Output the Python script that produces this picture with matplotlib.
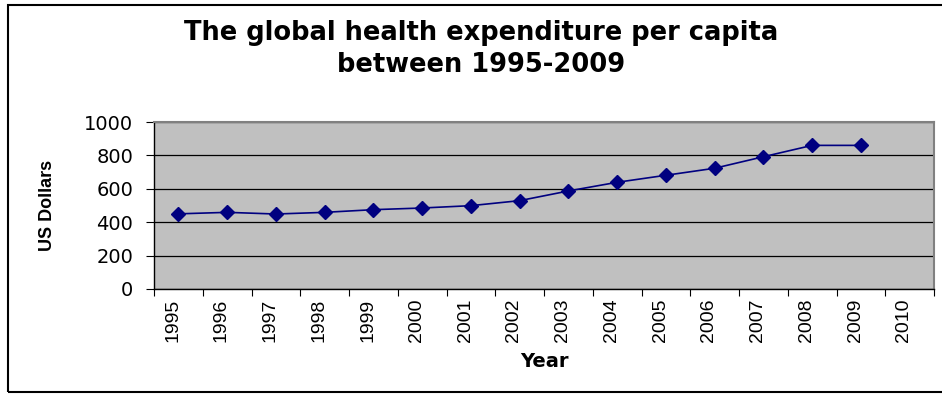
'''
Global health expenditure per capita, Excel-style line chart
'''
import matplotlib
matplotlib.use('Agg')
import matplotlib.pyplot as plt
from matplotlib.patches import Rectangle

years = [str(y) for y in range(1995, 2011)]
spending = [450, 459, 449, 459, 475, 485, 499, 529, 587, 639, 681, 723, 792, 860, 860]

plt.rcParams['font.family'] = ['Liberation Sans', 'DejaVu Sans']
wide = ['DejaVu Sans']  # the original text is drawn wide, so use a wider face

fig = plt.figure(figsize=(9.42, 3.94), dpi=100)
# outer chart border
fig.patches.append(Rectangle((8 / 942, 2 / 394), 1.0, 387 / 394, transform=fig.transFigure,
                             fill=False, edgecolor='black', linewidth=1.5))

ax = fig.add_axes([154 / 942, 105 / 394, 780 / 942, 167 / 394])
ax.set_facecolor('#C0C0C0')

x = list(range(len(spending)))
ax.plot(x, spending, color='#000080', marker='D', markersize=7, linewidth=1.2)

ax.set_xlim(-0.5, len(years) - 0.5)
ax.set_ylim(0, 1000)
ax.set_yticks(range(0, 1001, 200))
ax.yaxis.grid(True, color='black', linewidth=0.9)
ax.set_axisbelow(True)

# category axis: ticks on boundaries, labels in the middle
ax.set_xticks([i - 0.5 for i in range(len(years) + 1)], minor=False)
ax.set_xticklabels([''] * (len(years) + 1))
ax.set_xticks([i - 0.12 for i in range(len(years))], minor=True)
ax.set_xticklabels(years, minor=True, rotation=90, fontsize=14, family=['Liberation Sans'])
ax.tick_params(axis='x', which='minor', length=0, pad=7)
ax.tick_params(axis='x', which='major', length=5, direction='out', color='black')
ax.tick_params(axis='y', length=6, direction='out', labelsize=14, pad=9)
for lab in ax.get_yticklabels():
    lab.set_family(wide)

for side in ['top', 'right']:
    ax.spines[side].set_color('#808080')
    ax.spines[side].set_linewidth(1.5)
for side in ['left', 'bottom']:
    ax.spines[side].set_color('black')
    ax.spines[side].set_linewidth(1.0)

ax.set_xlabel('Year', fontsize=14, fontweight='bold', labelpad=7, family=wide)
fig.text(47 / 942, 1 - 205 / 394, 'US Dollars', rotation=90, fontsize=13, fontweight='bold',
         ha='center', va='center')
fig.text(481 / 942, 1 - 49 / 394, 'The global health expenditure per capita\nbetween 1995-2009',
         ha='center', va='center', fontsize=18.5, fontweight='bold', linespacing=1.35, family=wide)

fig.savefig('out.png', dpi=100)
